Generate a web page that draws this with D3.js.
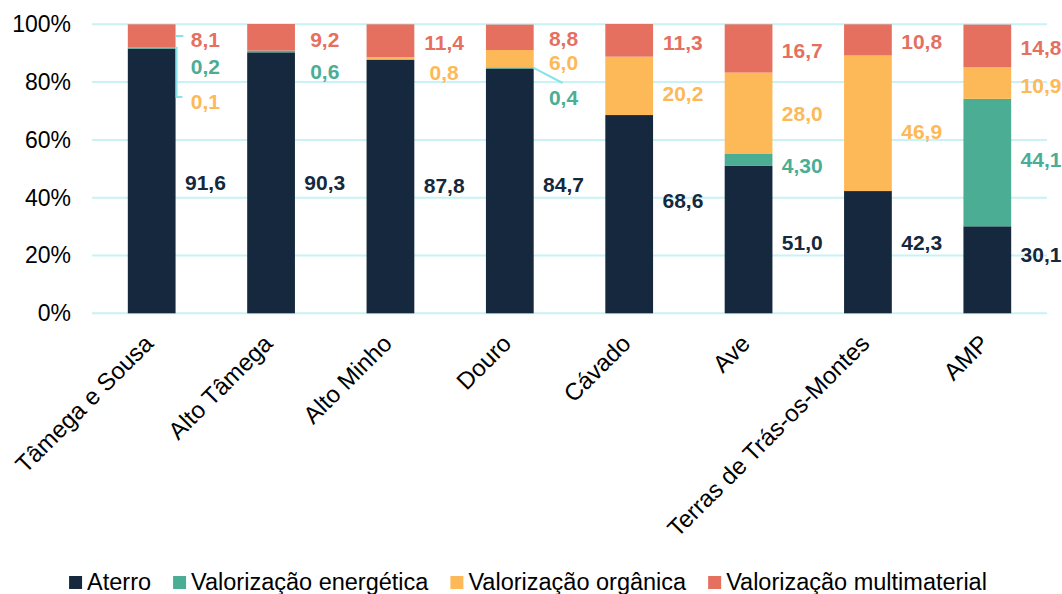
<!DOCTYPE html>
<html>
<head>
<meta charset="utf-8">
<script src="https://cdn.jsdelivr.net/npm/d3@7"></script>
<style>
  body { margin: 0; background: #fff; }
  svg { display: block; font-family: "Liberation Sans", Arial, sans-serif; }
</style>
</head>
<body>
<svg id="chart" width="1062" height="594"></svg>
<script>
const CATEGORIES = ["Tâmega e Sousa", "Alto Tâmega", "Alto Minho", "Douro", "Cávado", "Ave", "Terras de Trás-os-Montes", "AMP"];
const SERIES = ["Aterro", "Valorização energética", "Valorização orgânica", "Valorização multimaterial"];

const ATERRO        = [91.6, 90.3, 87.8, 84.7, 68.6, 51.0, 42.3, 30.1];
const ENERGETICA    = [0.2, 0.6, 0, 0.4, 0, 4.3, 0, 44.1];
const ORGANICA      = [0.1, 0, 0.8, 6.0, 20.2, 28.0, 46.9, 10.9];
const MULTIMATERIAL = [8.1, 9.2, 11.4, 8.8, 11.3, 16.7, 10.8, 14.8];

// label texts as printed on the chart (null = no label)
const ATERRO_LBL = ["91,6", "90,3", "87,8", "84,7", "68,6", "51,0", "42,3", "30,1"];
const ENERG_LBL  = ["0,2", "0,6", null, "0,4", null, "4,30", null, "44,1"];
const ORGAN_LBL  = ["0,1", null, "0,8", "6,0", "20,2", "28,0", "46,9", "10,9"];
const MULTI_LBL  = ["8,1", "9,2", "11,4", "8,8", "11,3", "16,7", "10,8", "14,8"];

// where each label sits, in % on the value axis (moved by hand in the original)
const ATERRO_AT = [45.1, 45.1, 44.0, 44.4, 38.9, 24.3, 24.3, 20.2];
const ENERG_AT  = [85.2, 83.5, null, 74.5, null, 51.0, null, 53.0];
const ORGAN_AT  = [73.1, null, 83.1, 86.9, 75.9, 69.0, 62.7, 78.6];
const MULTI_AT  = [94.6, 94.6, 93.5, 94.9, 93.5, 90.8, 93.9, 91.8];

const Y_TICKS = [0, 20, 40, 60, 80, 100];
const COLORS = ["#15283d", "#4bad94", "#fdb957", "#e5705f"];

const W = 1062;
const M = {left: 92, right: 15, top: 24.3, plotBottom: 313.3};

const svg = d3.select('#chart');

const x = d3.scaleBand()
  .domain(CATEGORIES)
  .range([M.left, W - M.right])
  .paddingInner(0.6)
  .paddingOuter(0.3);

const y = d3.scaleLinear().domain([0, 100]).range([M.plotBottom, M.top]);

// build rows for the stack
const keys = ["aterro", "energetica", "organica", "multi"];
const rows = CATEGORIES.map((c, i) => ({
  cat: c, aterro: ATERRO[i], energetica: ENERGETICA[i], organica: ORGANICA[i], multi: MULTIMATERIAL[i]
}));
const stacked = d3.stack().keys(keys)(rows);

// gridlines
svg.append('g')
  .selectAll('line')
  .data(Y_TICKS)
  .enter()
  .append('line')
  .attr('x1', M.left)
  .attr('x2', W - M.right)
  .attr('y1', d => y(d))
  .attr('y2', d => y(d))
  .attr('stroke', '#c8f2f5')
  .attr('stroke-width', 2);

// y axis labels
const yAxis = svg.append('g')
  .attr('transform', `translate(${M.left},0)`)
  .call(d3.axisLeft(y).tickValues(Y_TICKS).tickSize(0).tickPadding(21).tickFormat(d => d + '%'));
yAxis.select('.domain').remove();
yAxis.selectAll('text')
  .attr('font-size', 23)
  .attr('font-family', '"Liberation Sans", Arial, sans-serif')
  .attr('fill', '#000');

// bars
svg.append('g')
  .selectAll('g')
  .data(stacked)
  .enter()
  .append('g')
  .attr('fill', (d, i) => COLORS[i])
  .selectAll('rect')
  .data(d => d)
  .enter()
  .append('rect')
  .attr('x', d => x(d.data.cat))
  .attr('width', x.bandwidth())
  .attr('y', d => y(d[1]))
  .attr('height', d => y(d[0]) - y(d[1]));

// data labels
const LBL = [ATERRO_LBL, ENERG_LBL, ORGAN_LBL, MULTI_LBL];
const AT = [ATERRO_AT, ENERG_AT, ORGAN_AT, MULTI_AT];
const labelDx = x.step() * 0.45;
const labels = [];
LBL.forEach((arr, s) => arr.forEach((t, i) => {
  if (t !== null) labels.push({s: s, i: i, text: t, at: AT[s][i]});
}));

svg.append('g')
  .selectAll('text')
  .data(labels)
  .enter()
  .append('text')
  .attr('x', d => x(CATEGORIES[d.i]) + x.bandwidth() / 2 + labelDx)
  .attr('y', d => y(d.at))
  .attr('dy', '0.35em')
  .attr('text-anchor', 'middle')
  .attr('font-size', 21)
  .attr('font-weight', 'bold')
  .attr('fill', d => COLORS[d.s])
  .text(d => d.text);

// leader lines for the tiny segments
const LEADERS = [
  {i: 0, s: 3, kind: 'flat'},
  {i: 0, s: 2, kind: 'elbow'},
  {i: 3, s: 1, kind: 'diag'}
];
svg.append('g')
  .selectAll('path')
  .data(LEADERS)
  .enter()
  .append('path')
  .attr('fill', 'none')
  .attr('stroke', '#86e3ea')
  .attr('stroke-width', 2)
  .attr('d', d => {
    const seg = stacked[d.s][d.i];
    const x0 = x(CATEGORIES[d.i]) + x.bandwidth();
    const y0 = y((seg[0] + seg[1]) / 2);
    const lx = x(CATEGORIES[d.i]) + x.bandwidth() / 2 + labelDx;
    const ly = y(AT[d.s][d.i]);
    if (d.kind === 'flat') return `M${x0},${y0}H${lx - 22}`;
    if (d.kind === 'elbow') return `M${x0},${y0}H${x0 + 1}V${ly - 5}H${lx - 23}`;
    return `M${x0},${y0}L${lx - 1},${ly - 15}`;
  });

// category labels
svg.append('g')
  .selectAll('text')
  .data(CATEGORIES)
  .enter()
  .append('text')
  .attr('transform', d => `translate(${x(d) + x.bandwidth() / 2 + 3},345) rotate(-45)`)
  .attr('text-anchor', 'end')
  .attr('font-size', 24)
  .attr('fill', '#000')
  .text(d => d);

// legend
const legend = svg.append('g');
const items = legend.selectAll('g')
  .data(SERIES)
  .enter()
  .append('g');
items.append('rect')
  .attr('width', 13)
  .attr('height', 13)
  .attr('y', 576)
  .attr('fill', (d, i) => COLORS[i]);
items.append('text')
  .attr('x', 18)
  .attr('y', 590)
  .attr('font-size', 23.5)
  .attr('fill', '#000')
  .text(d => d);
let lx = 0;
items.each(function() {
  d3.select(this).attr('transform', `translate(${lx},0)`);
  lx += 18 + d3.select(this).select('text').node().getComputedTextLength() + 22;
});
const totalW = lx - 22;
legend.attr('transform', `translate(${528 - totalW / 2},0)`);
</script>
</body>
</html>
